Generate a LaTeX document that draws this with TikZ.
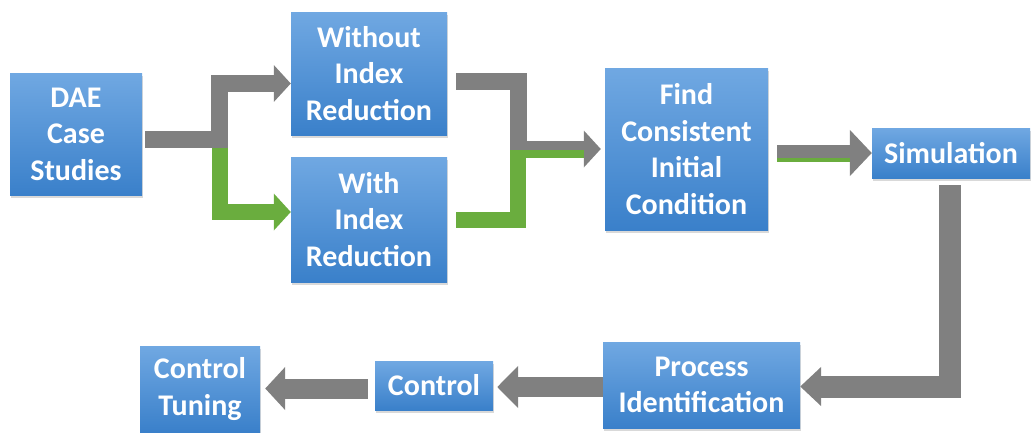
\documentclass[tikz,border=0pt]{standalone}
\usepackage{fontspec}
\setmainfont{Carlito}
\usepackage{tikz}
\usetikzlibrary{arrows.meta,shadows}

\definecolor{boxtop}{RGB}{112,168,226}
\definecolor{boxbot}{RGB}{58,128,202}
\definecolor{flowgray}{RGB}{128,128,128}
\definecolor{flowgreen}{RGB}{106,173,62}

\begin{document}
\begin{tikzpicture}[x=1pt,y=-1pt,
  block/.style={rectangle, top color=boxtop, bottom color=boxbot, text=white,
    align=center, inner sep=0pt, font=\bfseries\fontsize{30}{36.5}\selectfont,
    drop shadow={shadow xshift=1pt, shadow yshift=-3pt, opacity=0.3}},
  flow/.style={draw=flowgray, line width=17pt, line join=miter,
    -{Triangle[width=36pt,length=17pt]}},
  branch/.style={draw=flowgreen, line width=16pt, line join=miter}]
\useasboundingbox (0,0) rectangle (1033,432);

\node[block, minimum width=132pt, minimum height=122pt] (dae) at (76,134) {DAE\\Case\\Studies};
\node[block, minimum width=156pt, minimum height=123pt] (without) at (369,73.5) {Without\\Index\\Reduction};
\node[block, minimum width=156pt, minimum height=125pt] (with) at (369,219.5) {With\\Index\\Reduction};
\node[block, minimum width=163pt, minimum height=162pt] (find) at (686.5,149) {Find\\Consistent\\Initial\\Condition};
\node[block, minimum width=158pt, minimum height=50pt] (sim) at (951,153) {Simulation};
\node[block, minimum width=197pt, minimum height=86pt] (proc) at (701.5,385) {Process\\Identification};
\node[block, minimum width=118pt, minimum height=49pt] (ctrl) at (434,385.5) {Control};
\node[block, minimum width=120pt, minimum height=86pt] (tune) at (200,389) {Control\\Tuning};

\coordinate (split) at (219.5,139);
\coordinate (merge) at (518,149);

% split after the case studies
\draw[flow] ([xshift=3pt]dae.east |- split) -- (split) |- ([yshift=-10pt]without.west);
\draw[branch, -{Triangle[width=36pt,length=17pt]}] ([yshift=-8.5pt]split) |- ([yshift=7.5pt]with.west);

% both ways into the initial condition
\draw[flow, shorten >=4pt] ([xshift=9pt,yshift=-7.5pt]without.east) -| (merge) -- (find.west);
\draw[branch] ([xshift=9pt]with.east) -| ([yshift=-1pt]merge);
\draw[branch, line width=8pt] ([xshift=-8pt,yshift=-5pt]merge) -- ([xshift=-21pt,yshift=-5pt]find.west);

\draw[flow, -{Triangle[width=45pt,length=22pt]}] ([xshift=9pt]find.east |- sim.west) -- (sim.west);
\draw[branch, line width=4pt] ([xshift=9pt,yshift=-7pt]find.east |- sim.west) -- ([xshift=-22pt,yshift=-7pt]sim.west);

% back along the bottom row
\draw[flow, line width=22pt, -{Triangle[width=38pt,length=21pt]}] ([xshift=-1pt,yshift=-7pt]sim.south) |- ([yshift=-1.5pt]proc.east);
\draw[flow, line width=20pt, shorten >=4pt, -{Triangle[width=41pt,length=21pt]}] ([yshift=-2pt]proc.west) -- ([yshift=-1.5pt]ctrl.east);
\draw[flow, line width=20pt, shorten >=5pt, -{Triangle[width=42pt,length=20pt]}] ([xshift=-7pt,yshift=-3pt]ctrl.west) -- ([yshift=0.5pt]tune.east);
\end{tikzpicture}
\end{document}
